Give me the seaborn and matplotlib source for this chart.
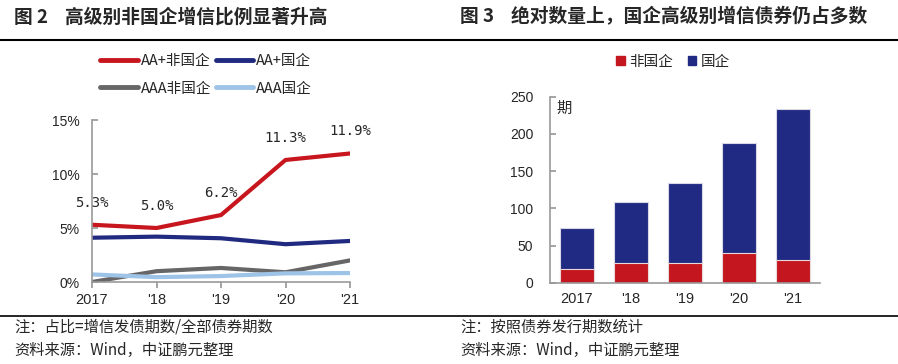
import pandas as pd
import numpy as np
import seaborn as sns
import matplotlib.pyplot as plt
from matplotlib.lines import Line2D
from matplotlib.patches import Patch

# -----------------------------
# DATA
# -----------------------------
years = ["2017", "'18", "'19", "'20", "'21"]

aa_plus_private = [5.3, 5.0, 6.2, 11.3, 11.9]   # AA+非国企
aa_plus_soe = [4.1, 4.2, 4.05, 3.5, 3.8]        # AA+国企
aaa_private = [0.0, 1.0, 1.3, 0.9, 2.0]         # AAA非国企
aaa_soe = [0.7, 0.45, 0.55, 0.8, 0.83]          # AAA国企

count_private = [19, 27, 26, 40, 31]            # 非国企 (期)
count_soe = [55, 81, 108, 148, 203]             # 国企 (期)

series_names = ["AA+非国企", "AA+国企", "AAA非国企", "AAA国企"]
series_vals = [aa_plus_private, aa_plus_soe, aaa_private, aaa_soe]
line_colors = ["#C8161E", "#1F2A80", "#666666", "#9DC3E6"]

RED = "#C3161F"
NAVY = "#212A82"

sns.set_theme(style="white")
plt.rcParams['font.family'] = ['Noto Sans CJK SC', 'DejaVu Sans']
plt.rcParams['axes.unicode_minus'] = False

fig = plt.figure(figsize=(8.98, 3.64), dpi=100)

# -----------------------------
# LEFT: line chart
# -----------------------------
line_df = pd.DataFrame({
    "x": np.tile(np.arange(len(years)), len(series_names)),
    "val": np.concatenate(series_vals),
    "series": np.repeat(series_names, len(years)),
})

ax1 = fig.add_axes([92 / 898, 82 / 364, 258 / 898, 162 / 364])
sns.lineplot(data=line_df, x="x", y="val", hue="series", hue_order=series_names,
             palette=line_colors, linewidth=3, legend=False, ax=ax1)
ax1.set_xlim(0, 4)
ax1.set_ylim(0, 15)
ax1.set_yticks([0, 5, 10, 15])
ax1.set_yticklabels(["0%", "5%", "10%", "15%"], family="Liberation Sans", fontsize=10)
ax1.set_xticks(range(len(years)))
ax1.set_xticklabels(years, family="Liberation Sans", fontsize=10.5)
ax1.set_xlabel("")
ax1.set_ylabel("")
for s in ["top", "right"]:
    ax1.spines[s].set_visible(False)
for s in ["left", "bottom"]:
    ax1.spines[s].set_color("#999999")
    ax1.spines[s].set_linewidth(1.2)
ax1.tick_params(axis="y", direction="in", length=4, color="#999999", pad=9, left=True)
ax1.tick_params(axis="x", direction="out", length=4, color="#999999", pad=4, bottom=True)
ax1.patch.set_alpha(0)

for i, v in enumerate(aa_plus_private):
    ax1.annotate(f"{v:.1f}%", (i, v), xytext=(0, 16), textcoords="offset points",
                 ha="center", va="center", fontsize=10, family="DejaVu Sans Mono",
                 annotation_clip=False)

# legend fills column-wise, so order handles to get rows: AA+ pair, AAA pair
leg_order = [0, 2, 1, 3]
handles = [Line2D([0], [0], color=line_colors[k], lw=3.5) for k in leg_order]
labels = [series_names[k] for k in leg_order]
fig.legend(handles, labels, loc="center", bbox_to_anchor=(206 / 898, 1 - 75 / 364),
           ncol=2, frameon=False, fontsize=10.5, handlelength=2.6, handletextpad=0.2,
           columnspacing=0.3, labelspacing=0.9)

# -----------------------------
# RIGHT: stacked bar chart
# -----------------------------
bar_df = pd.DataFrame({
    "year": years,
    "private": count_private,
    "total": np.array(count_private) + np.array(count_soe),
})

ax2 = fig.add_axes([550 / 898, 81.3 / 364, 270 / 898, 186 / 364])
sns.barplot(data=bar_df, x="year", y="total", color=NAVY, saturation=1, width=0.62,
            edgecolor="#D8D8E8", linewidth=0.8, ax=ax2)
sns.barplot(data=bar_df, x="year", y="private", color=RED, saturation=1, width=0.62,
            edgecolor="#E8D8D8", linewidth=0.8, ax=ax2)
ax2.set_xlim(-0.5, 4.5)
ax2.set_ylim(0, 250)
ax2.set_yticks(range(0, 251, 50))
ax2.set_yticklabels([str(v) for v in range(0, 251, 50)], family="Liberation Sans", fontsize=10)
ax2.set_xticks(range(len(years)))
ax2.set_xticklabels(years, family="Liberation Sans", fontsize=10.5)
ax2.set_xlabel("")
ax2.set_ylabel("")
for s in ["top", "right"]:
    ax2.spines[s].set_visible(False)
for s in ["left", "bottom"]:
    ax2.spines[s].set_color("#999999")
    ax2.spines[s].set_linewidth(1.2)
ax2.tick_params(axis="y", direction="in", length=4, color="#999999", pad=12, left=True)
ax2.tick_params(axis="x", length=0, pad=7)
ax2.text(0.025, 0.985, "期", transform=ax2.transAxes, ha="left", va="top", fontsize=11)

fig.legend([Patch(color=RED), Patch(color=NAVY)], ["非国企", "国企"], loc="center",
           bbox_to_anchor=(673 / 898, 1 - 62 / 364), ncol=2, frameon=False, fontsize=10.5,
           handlelength=0.6, handleheight=0.6, handletextpad=0.3, columnspacing=1.0)

# -----------------------------
# TITLES, RULES, NOTES
# -----------------------------
fig.text(14 / 898, 1 - 17 / 364, "图 2    高级别非国企增信比例显著升高", fontsize=13.5,
         fontweight="bold", va="center", ha="left")
fig.text(460 / 898, 1 - 17 / 364, "图 3    绝对数量上，国企高级别增信债券仍占多数", fontsize=13.5,
         fontweight="bold", va="center", ha="left")

fig.add_artist(Line2D([0, 1], [1 - 39.5 / 364] * 2, color="black", lw=1.5))
fig.add_artist(Line2D([0, 1], [1 - 316 / 364] * 2, color="black", lw=1.2))

fig.text(14 / 898, 1 - 327 / 364, "注：占比=增信发债期数/全部债券期数", fontsize=11, va="center")
fig.text(14 / 898, 1 - 350 / 364, "资料来源：Wind，中证鹏元整理", fontsize=11, va="center")
fig.text(460 / 898, 1 - 327 / 364, "注：按照债券发行期数统计", fontsize=11, va="center")
fig.text(460 / 898, 1 - 350 / 364, "资料来源：Wind，中证鹏元整理", fontsize=11, va="center")

fig.savefig("out.png", dpi=100)
